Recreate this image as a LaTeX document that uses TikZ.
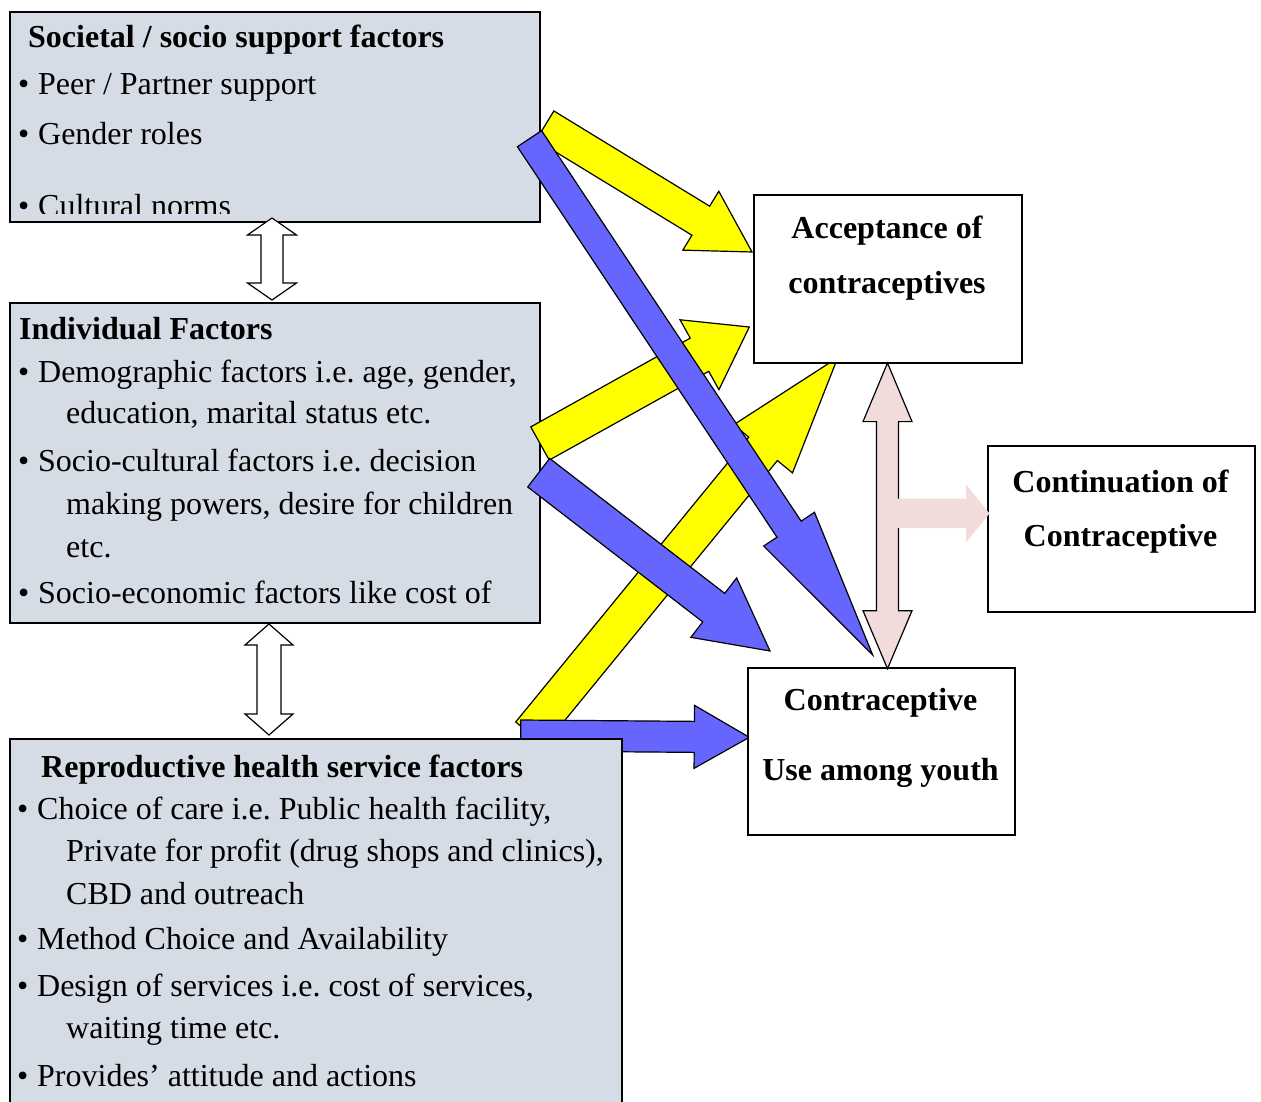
\documentclass[tikz,border=0pt]{standalone}
\usepackage{fontspec}
\setmainfont{Liberation Serif}
\usetikzlibrary{calc}
\definecolor{boxfill}{RGB}{214,220,229}
\definecolor{ylw}{RGB}{255,255,0}
\definecolor{blu}{RGB}{102,102,255}
\definecolor{pnk}{RGB}{242,220,219}
\frenchspacing
% block arrow: style, tail, tip, shaft width, head width, head length
\newcommand\blockarrow[6]{%
  \pgfpointdiff{\pgfpointanchor{#2}{center}}{\pgfpointanchor{#3}{center}}%
  \pgfgetlastxy{\BAx}{\BAy}%
  \pgfmathsetmacro\BAang{atan2(\BAy,\BAx)}%
  \pgfmathsetmacro\BAlen{veclen(\BAx,\BAy)}%
  \pgfmathsetmacro\BAb{\BAlen-#6}%
  \pgfmathsetmacro\BAs{#4/2}%
  \pgfmathsetmacro\BAh{#5/2}%
  \draw[#1,shift={(#2)},rotate=\BAang] (0pt,-\BAs pt) -- (\BAb pt,-\BAs pt) -- (\BAb pt,-\BAh pt) -- (\BAlen pt,0pt) -- (\BAb pt,\BAh pt) -- (\BAb pt,\BAs pt) -- (0pt,\BAs pt) -- cycle;
}
% double-headed block arrow
\newcommand\dblarrow[6]{%
  \pgfpointdiff{\pgfpointanchor{#2}{center}}{\pgfpointanchor{#3}{center}}%
  \pgfgetlastxy{\BAx}{\BAy}%
  \pgfmathsetmacro\BAang{atan2(\BAy,\BAx)}%
  \pgfmathsetmacro\BAlen{veclen(\BAx,\BAy)}%
  \pgfmathsetmacro\BAb{\BAlen-#6}%
  \pgfmathsetmacro\BAs{#4/2}%
  \pgfmathsetmacro\BAh{#5/2}%
  \draw[#1,shift={(#2)},rotate=\BAang] (0pt,0pt) -- (#6pt,-\BAh pt) -- (#6pt,-\BAs pt) -- (\BAb pt,-\BAs pt) -- (\BAb pt,-\BAh pt) -- (\BAlen pt,0pt) -- (\BAb pt,\BAh pt) -- (\BAb pt,\BAs pt) -- (#6pt,\BAs pt) -- (#6pt,\BAh pt) -- cycle;
}
\newcommand\blt{\makebox[20pt][l]{•}}
\begin{document}
\begin{tikzpicture}[x=1pt,y=-1pt,
  factorbox/.style={draw=black,line width=1.8pt,fill=boxfill,anchor=north west,inner sep=0pt},
  outbox/.style={draw=black,line width=1.8pt,fill=white,anchor=north west,inner sep=0pt},
  txt/.style={anchor=base west,inner sep=0pt,font=\fontsize{32}{38}\selectfont},
  ttl/.style={anchor=base west,inner sep=0pt,font=\fontsize{32}{38}\selectfont\bfseries},
  ctr/.style={anchor=base,inner sep=0pt,font=\fontsize{32}{38}\selectfont\bfseries},
  yarrow/.style={fill=ylw,draw=black,line width=1.2pt,line join=miter},
  barrow/.style={fill=blu,draw=black,line width=1.2pt,line join=miter},
  warrow/.style={fill=white,draw=black,line width=1.2pt,line join=miter}]
\useasboundingbox (0,0) rectangle (1261,1102);
\clip (0,0) rectangle (1261,1102);

% left factor boxes
\node[factorbox,minimum width=530pt,minimum height=210pt] (soc) at (9,11) {};
\node[factorbox,minimum width=530pt,minimum height=320pt] (ind) at (9,302) {};

% arrow end points
\coordinate (y1t) at (545,125.5);  \coordinate (y1h) at (752,252);
\coordinate (y2t) at (540,443.5);  \coordinate (y2h) at (749.3,327);
\coordinate (y3t) at (530,733.7);  \coordinate (y3h) at (837.8,357.5);
\coordinate (b1t) at (529.5,138.7); \coordinate (b1h) at (872.7,655);
\coordinate (b2t) at (538.7,472.7); \coordinate (b2h) at (770,651);
\coordinate (b3t) at (520.7,735.5); \coordinate (b3h) at (749.3,737.3);

% yellow arrows
\blockarrow{yarrow}{y1t}{y1h}{34}{69}{60}
\blockarrow{yarrow}{y2t}{y2h}{38}{80}{57}
\blockarrow{yarrow}{y3t}{y3h}{37}{76}{118}
% blue arrows
\blockarrow{barrow}{b1t}{b1h}{29}{61}{151}
\blockarrow{barrow}{b2t}{b2h}{36}{75}{71}
\blockarrow{barrow}{b3t}{b3h}{31}{63}{55}

% reproductive box and outcome boxes
\node[factorbox,minimum width=612pt,minimum height=390pt] (rep) at (9,738) {};
\node[outbox,minimum width=268pt,minimum height=168pt] (acc) at (753,194) {};
\node[outbox,minimum width=267pt,minimum height=166pt] (cont) at (987,445) {};
\node[outbox,minimum width=267pt,minimum height=167pt] (use) at (747,667) {};

% pink up-down-right arrow
\fill[pnk] (887.5,363) -- (912,421.6) -- (898.5,421.6) -- (898.5,498.5) -- (966,498.5) -- (966,484.3) -- (989.5,513.5) -- (966,542.3) -- (966,528) -- (898.5,528) -- (898.5,610.7) -- (912,610.7) -- (887.5,668.7) -- (863,610.7) -- (876.5,610.7) -- (876.5,421.6) -- (863,421.6) -- cycle;
\draw[black,line width=1.2pt,line join=miter] (898.5,498.5) -- (898.5,421.6) -- (912,421.6) -- (887.5,363) -- (863,421.6) -- (876.5,421.6) -- (876.5,610.7) -- (863,610.7) -- (887.5,668.7) -- (912,610.7) -- (898.5,610.7) -- (898.5,528);

% white double arrows between factor boxes
\coordinate (w1a) at (272,218); \coordinate (w1b) at (272,300);
\coordinate (w2a) at (269,624); \coordinate (w2b) at (269,735);
\dblarrow{warrow}{w1a}{w1b}{22}{49}{17}
\dblarrow{warrow}{w2a}{w2b}{24}{48}{21}

% texts of box 1 (clipped at the inner margin)
\begin{scope}
\clip (9,11) rectangle (539,214);
\node[ttl] (s0) at (28,48) {Societal / socio support factors};
\node[txt] (s1) at (18,95) {\blt Peer / Partner support};
\node[txt] (s2) at (18,145) {\blt Gender roles};
\node[txt] (s3) at (18,217) {\blt Cultural norms};
\end{scope}

% texts of box 2
\node[ttl] (i0) at (19,339) {Individual Factors};
\node[txt] (i1) at (18,382) {\blt Demographic factors i.e. age, gender,};
\node[txt] (i2) at (66,423) {education, marital status etc.};
\node[txt] (i3) at (18,471) {\blt Socio-cultural factors i.e. decision};
\node[txt] (i4) at (66,514) {making powers, desire for children};
\node[txt] (i5) at (66,557) {etc.};
\node[txt] (i6) at (18,603) {\blt Socio-economic factors like cost of};

% texts of box 3
\node[ttl] (r0) at (41,777) {Reproductive health service factors};
\node[txt] (r1) at (17,819) {\blt Choice of care i.e. Public health facility,};
\node[txt] (r2) at (66,861) {Private for profit (drug shops and clinics),};
\node[txt] (r3) at (66,904) {CBD and outreach};
\node[txt] (r4) at (17,949) {\blt Method Choice and Availability};
\node[txt] (r5) at (17,996) {\blt Design of services i.e. cost of services,};
\node[txt] (r6) at (66,1038) {waiting time etc.};
\node[txt] (r7) at (17,1086) {\blt Provides’ attitude and actions};

% outcome texts
\node[ctr] (a1) at (887,239) {Acceptance of};
\node[ctr] (a2) at (887,293) {contraceptives};
\node[ctr] (c1) at (1120.5,492) {Continuation of};
\node[ctr] (c2) at (1120.5,546) {Contraceptive};
\node[ctr] (u1) at (880.5,710) {Contraceptive};
\node[ctr] (u2) at (880.5,780) {Use among youth};
\end{tikzpicture}
\end{document}
